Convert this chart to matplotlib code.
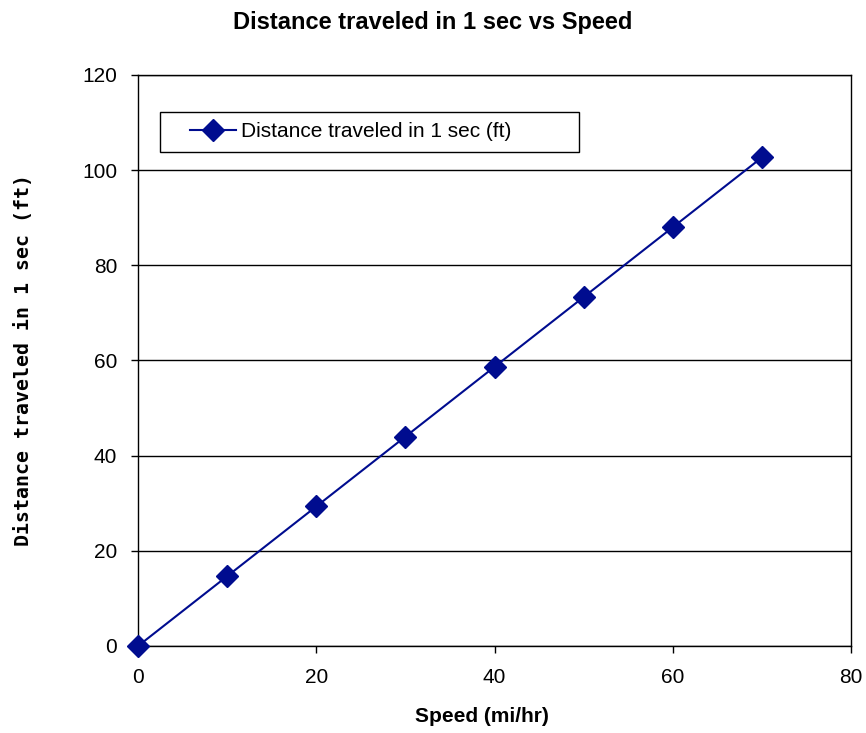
import matplotlib.pyplot as plt
from matplotlib.legend_handler import HandlerLine2D

speed = [0, 10, 20, 30, 40, 50, 60, 70]
distance = [0, 14.67, 29.33, 44.0, 58.67, 73.33, 88.0, 102.67]
x_ticks = [0, 20, 40, 60, 80]
y_ticks = [0, 20, 40, 60, 80, 100, 120]

NAVY = "#000c8f"

plt.rcParams["font.family"] = ["Liberation Sans", "DejaVu Sans"]

fig = plt.figure(figsize=(8.66, 7.33), dpi=100)
ax = fig.add_axes([0.1594, 0.1187, 0.8233, 0.779])

line, = ax.plot(speed, distance, color=NAVY, lw=1.5, marker="D", ms=11.5,
                mec=NAVY, mfc=NAVY, label="Distance traveled in 1 sec (ft)",
                clip_on=False, zorder=3)

ax.set_xlim(0, 80)
ax.set_ylim(0, 120)
ax.set_xticks(x_ticks)
ax.set_yticks(y_ticks)
ax.yaxis.grid(True, color="black", lw=1)
ax.set_axisbelow(True)
for s in ax.spines.values():
    s.set_color("black")
    s.set_linewidth(1)
ax.tick_params(direction="out", length=5, width=1, labelsize=15)
ax.tick_params(axis="y", pad=10)
ax.tick_params(axis="x", pad=10.5)

fig.text(0.5, 1 - 29 / 733, "Distance traveled in 1 sec vs Speed",
         fontsize=17, fontweight="bold", ha="center", va="baseline")
ax.set_xlabel("Speed (mi/hr)", fontsize=15, fontweight="bold")
ax.xaxis.set_label_coords(0.482, -0.106)
ax.set_ylabel("Distance traveled in 1 sec (ft)", fontsize=14.3,
              fontweight="bold", family="DejaVu Sans Mono")
ax.yaxis.set_label_coords(-0.147, 0.5)

leg = ax.legend(loc="upper left", bbox_to_anchor=(0.031, 0.8652, 0.588, 0.07),
                mode="expand", fancybox=False, framealpha=1, edgecolor="black",
                fontsize=15, handlelength=3.15, handletextpad=0.25,
                borderaxespad=0, borderpad=0.5,
                handler_map={line: HandlerLine2D(xpad=0.94)})
leg.get_frame().set_linewidth(1)

fig.savefig("out.png", dpi=100)
